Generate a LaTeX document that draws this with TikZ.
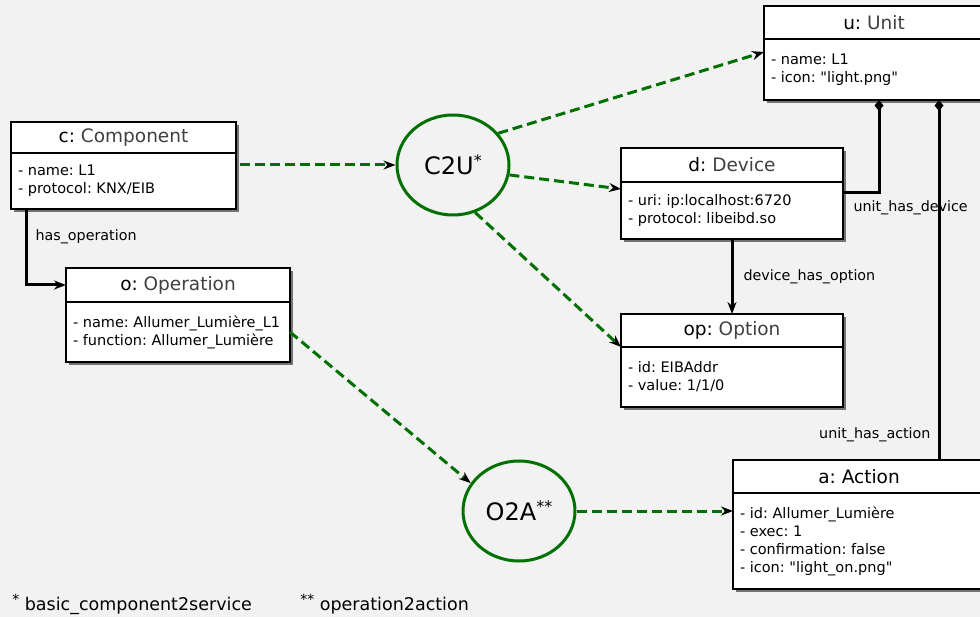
\documentclass[tikz,border=0pt]{standalone}
\usepackage{fontspec}
\setmainfont{DejaVu Sans}
\usepackage{xcolor}
\usetikzlibrary{arrows.meta,shapes.geometric,backgrounds}

\definecolor{bgc}{HTML}{F2F2F2}
\definecolor{mapgreen}{HTML}{007000}
\definecolor{typegray}{HTML}{404040}
\newcommand{\objname}[2]{#1: \textcolor{typegray}{#2}}
\newcommand{\q}{\textquotedbl}
\newcommand{\starmark}[2]{\raisebox{#2}{\fontsize{#1}{#1}\selectfont *}}
\frenchspacing

\begin{document}
\begin{tikzpicture}[x=1pt,y=-1pt,line width=2.6pt,
  head/.style={draw,fill=white,anchor=north west,outer sep=0pt,inner sep=0pt,minimum width=#1,font=\fontsize{18.5}{22}\selectfont},
  body/.style={draw,fill=white,anchor=north west,outer sep=0pt,inner xsep=7pt,inner ysep=0pt,text width=#1,align=flush left,font=\fontsize{14.5}{18}\selectfont},
  map/.style={ellipse,draw=mapgreen,line width=3pt,minimum width=112,minimum height=100,inner sep=0pt,font=\fontsize{24}{28}\selectfont},
  dep/.style={draw=mapgreen,line width=3pt,dash pattern=on 10pt off 5pt,-{Stealth[length=12pt,width=9pt,color=black]}},
  rel/.style={line width=3pt,-{Stealth[length=12pt,width=9pt]}},
  own/.style={line width=3pt,{Diamond[length=11pt,width=9pt]}-},
  lbl/.style={font=\fontsize{14.3}{17}\selectfont,inner sep=2pt},
  fn/.style={font=\fontsize{17.5}{21}\selectfont,inner sep=0pt,anchor=base west}]
  \useasboundingbox (0,0) rectangle (980,617);
  \begin{scope}[on background layer]
    \fill[bgc] (0,0) rectangle (980,617);
  \end{scope}

  % objects
  \node[head=225,minimum height=31] (c) at (11,122) {\objname{c}{Component}};
  \node[body=211pt,minimum height=56] (c-b) at (c.south west) {- name: L1\\- protocol: KNX/EIB};
  \node[head=224,minimum height=34] (o) at (66,268) {\objname{o}{Operation}};
  \node[body=210pt,minimum height=60] (o-b) at (o.south west) {- name: Allumer\_Lumière\_L1\\- function: Allumer\_Lumière};
  \node[head=220,minimum height=33] (u) at (764,6) {\objname{u}{Unit}};
  \node[body=206pt,minimum height=61] (u-b) at (u.south west) {- name: L1\\- icon: \q light.png\q};
  \node[head=222,minimum height=34] (d) at (621,148) {\objname{d}{Device}};
  \node[body=208pt,minimum height=57] (d-b) at (d.south west) {- uri: ip:localhost:6720\\- protocol: libeibd.so};
  \node[head=222,minimum height=33] (op) at (621,314) {\objname{op}{Option}};
  \node[body=208pt,minimum height=60] (op-b) at (op.south west) {- id: EIBAddr\\- value: 1/1/0};
  \node[head=252,minimum height=33] (a) at (733,460) {a: Action};
  \node[body=238pt,minimum height=96] (a-b) at (a.south west) {- id: Allumer\_Lumière\\- exec: 1\\- confirmation: false\\- icon: \q light\_on.png\q};

  \begin{scope}[on background layer]
    \foreach \n in {c,o,u,d,op,a}
      \fill[black!55] ([shift={(3pt,-3pt)}]\n.north west) rectangle ([shift={(3pt,-3pt)}]\n-b.south east);
  \end{scope}

  % transformations
  \node[map] (c2u) at (453,165) {C2U\starmark{16}{8pt}};
  \node[map] (o2a) at (519,511) {O2A\starmark{16}{8pt}\starmark{16}{8pt}};

  \draw[dep] ([xshift=4pt]c-b.east |- c2u) -- (c2u);
  \draw[dep] (c2u.35) -- ([yshift=-13pt]u-b.north west);
  \draw[dep] (c2u.-10) -- ([yshift=-7pt]d-b.north west);
  \draw[dep] (c2u.-65) -- (op.south west);
  \draw[dep] (o-b.east) -- (o2a.150);
  \draw[dep] (o2a) -- (o2a -| a-b.west);

  % links
  \draw[rel] ([xshift=15pt]c-b.south west) |- node[lbl,pos=0.184,right=6pt]{has\_operation} (o.west);
  \draw[rel] (d-b.south) -- node[lbl,right=8pt]{device\_has\_option} (op.north);
  \draw[own] ([xshift=115pt]u-b.south west) |- ([yshift=-11pt]d-b.north east)
    node[lbl,anchor=west,xshift=7pt,yshift=-15pt]{unit\_has\_device};
  \draw[own] ([xshift=175pt]u-b.south west) -- node[lbl,pos=0.93,left=5pt]{unit\_has\_action} ([xshift=206pt]a.north west);

  \node[fn] (fn1) at (11,610) {\starmark{14}{6pt} basic\_component2service};
  \node[fn] (fn2) at (299,610) {\starmark{14}{6pt}\starmark{14}{6pt} operation2action};
\end{tikzpicture}
\end{document}
